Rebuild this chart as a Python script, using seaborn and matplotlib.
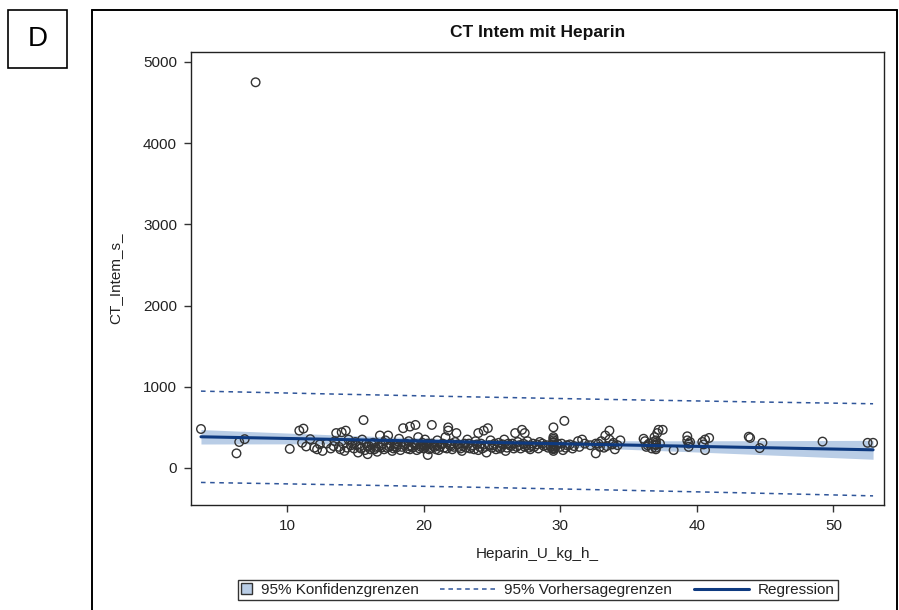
import numpy as np
import pandas as pd
import matplotlib
matplotlib.use("Agg")
import matplotlib.pyplot as plt
import seaborn as sns
from matplotlib.lines import Line2D
from matplotlib.patches import Patch, Rectangle
from matplotlib.legend_handler import HandlerPatch

# ---------------- data ----------------
heparin = [
    3.7, 6.3, 6.5, 6.9, 7.7, 10.2, 10.9, 11.2, 11.1, 11.4, 11.7,
    12.0, 12.2, 12.4, 12.6, 12.9, 13.2, 13.5, 13.6, 13.8, 14.0, 14.1, 14.2, 14.3, 14.5, 14.7, 14.9,
    15.0, 15.2, 15.3, 15.5, 15.6, 15.7, 15.8, 15.9, 16.0, 16.1,
    16.3, 16.5, 16.6, 16.8, 16.9, 17.1, 17.2, 17.4, 17.5, 17.7, 17.9, 18.0, 18.2, 18.3, 18.5, 18.6,
    18.8, 18.9, 19.0, 19.1, 19.3, 19.4, 19.5, 19.6, 19.8, 19.9, 20.0,
    20.1, 20.2, 20.3, 20.4, 20.6, 20.6, 20.8, 21.0, 21.1, 21.3, 21.5, 21.6, 21.8, 21.8, 22.0, 22.1,
    22.3, 22.4, 22.6, 22.8, 23.0, 23.2, 23.4, 23.6, 23.8, 24.0, 24.0,
    24.2, 24.4, 24.5, 24.6, 24.7, 24.9, 25.1, 25.3, 25.5, 25.7, 25.9, 26.0, 26.2, 26.4, 26.6, 26.7,
    26.9, 27.0, 27.2, 27.4, 27.4, 27.6, 27.8, 28.0,
    28.3, 28.5, 28.8, 29.1, 29.5, 29.5, 29.5, 29.5, 29.5, 29.5, 29.5, 29.5, 29.5, 29.8, 30.0, 30.2,
    30.3, 30.5, 30.9, 31.3, 31.6,
    32.6, 32.6, 32.9, 33.0, 33.2, 33.3, 33.6, 33.6, 33.8, 34.0, 34.4,
    36.1, 36.2, 36.3, 36.5, 36.7, 36.9, 37.0, 37.0, 37.0, 37.0, 37.1, 37.2, 37.5, 38.3,
    39.3, 39.3, 39.4, 39.4, 40.4, 40.6, 40.6, 40.9,
    43.8, 43.9, 44.6, 44.8, 49.2, 52.5, 52.9,
    13.4, 13.9, 14.4, 14.8, 15.1, 15.4, 15.9, 16.2, 16.4, 16.7, 17.0, 17.3, 17.6, 17.8, 18.1, 18.4,
    18.7, 19.0, 19.2, 19.5, 19.7, 20.0, 20.1, 20.3, 20.5, 20.7, 20.9, 21.2, 21.4, 21.7, 21.9, 22.2,
    22.5, 22.7, 22.9, 23.1, 23.3, 23.5, 23.7, 23.9, 24.1, 24.3, 24.8, 25.0, 25.2, 25.4, 25.6, 25.8,
    26.1, 26.3, 26.5, 26.8, 27.1, 27.3, 27.5, 27.7, 27.9, 28.1, 28.4, 28.7, 29.0, 29.3, 29.5, 29.5,
    29.5, 29.7, 30.1, 30.4, 30.7, 31.0, 31.4, 31.8, 32.2, 32.8, 33.4, 33.9, 34.2, 36.4, 36.8, 37.0,
    37.0, 37.3, 39.5, 40.5, 22.0, 21.0, 19.8, 18.9, 17.9, 16.9,
]
ct_intem = [
    480, 180, 320, 355, 4750, 235, 460, 485, 310, 265, 355,
    250, 230, 290, 210, 300, 240, 330, 430, 260, 440, 300, 210, 460, 350, 280, 240,
    320, 190, 260, 350, 590, 220, 300, 170, 270, 230,
    310, 250, 200, 400, 280, 230, 340, 400, 260, 210, 300, 250, 360, 220, 490, 280,
    240, 330, 510, 270, 300, 530, 220, 380, 260, 310, 240,
    350, 280, 160, 230, 530, 300, 260, 340, 220, 290, 250, 380, 500, 460, 270, 230,
    320, 430, 260, 210, 300, 350, 240, 280, 330, 430, 220,
    300, 460, 260, 190, 490, 340, 280, 230, 310, 260, 350, 210, 300, 270, 240, 430,
    320, 280, 470, 430, 260, 330, 230, 300,
    290, 320, 270, 250, 500, 380, 340, 310, 290, 270, 250, 230, 210, 300, 260, 220,
    580, 280, 240, 330, 350,
    300, 180, 260, 330, 250, 400, 460, 350, 290, 230, 340,
    360, 330, 260, 300, 240, 380, 340, 310, 280, 250, 430, 470, 470, 220,
    390, 340, 300, 260, 320, 350, 220, 370,
    385, 370, 245, 310, 325, 310, 310,
    270, 230, 250, 300, 280, 240, 260, 290, 230, 260, 300, 250, 280, 240, 290, 260,
    300, 230, 250, 290, 240, 280, 260, 300, 240, 270, 230, 260, 300, 240, 280, 260,
    290, 240, 270, 250, 300, 260, 230, 290, 260, 240, 280, 250, 300, 260, 240, 290,
    250, 280, 300, 260, 240, 300, 280, 250, 270, 260, 240, 300, 280, 260, 320, 360,
    240, 270, 300, 250, 290, 270, 260, 300, 280, 300, 270, 310, 280, 280, 320, 290,
    230, 300, 320, 290, 300, 280, 290, 270, 270, 250,
]
y_ticks = [0, 1000, 2000, 3000, 4000, 5000]
x_ticks = [10, 20, 30, 40, 50]
title = "CT Intem mit Heparin"
x_label = "Heparin_U_kg_h_"
y_label = "CT_Intem_s_"
legend_labels = ["95% Konfidenzgrenzen", "95% Vorhersagegrenzen", "Regression"]
panel_letter = "D"

df = pd.DataFrame({"x": heparin, "y": ct_intem})

# ---------------- regression (from data) ----------------
x = df["x"].to_numpy(float)
y = df["y"].to_numpy(float)
n = len(x)
slope, intercept = np.polyfit(x, y, 1)
resid = y - (intercept + slope * x)
s = np.sqrt(np.sum(resid ** 2) / (n - 2))
xbar = x.mean()
sxx = np.sum((x - xbar) ** 2)
t = 1.969
xg = np.linspace(x.min(), x.max(), 200)
yg = intercept + slope * xg
se_mean = s * np.sqrt(1 / n + (xg - xbar) ** 2 / sxx)
se_pred = s * np.sqrt(1 + 1 / n + (xg - xbar) ** 2 / sxx)

# ---------------- figure ----------------
sns.set_theme(style="white")
plt.rcParams["font.family"] = ["Liberation Sans", "DejaVu Sans"]

W, H = 899, 610
fig = plt.figure(figsize=(W / 100, H / 100), dpi=100)
ax = fig.add_axes([191 / W, 1 - 505 / H, 693 / W, 453 / H])

ci_color = "#b9cde6"
line_color = "#0e3a80"
dash_color = "#2f559a"
text_color = "#222222"

ax.fill_between(xg, yg - t * se_mean, yg + t * se_mean, color=ci_color, lw=0, zorder=1)
ax.plot(xg, yg + t * se_pred, color=dash_color, lw=1.1, dashes=(3, 3), zorder=2)
ax.plot(xg, yg - t * se_pred, color=dash_color, lw=1.1, dashes=(3, 3), zorder=2)
sns.scatterplot(data=df, x="x", y="y", ax=ax, marker="o", s=38,
                facecolor="none", edgecolor="#333333", linewidth=1.0, zorder=3)
ax.plot(xg, yg, color=line_color, lw=2.2, zorder=4)

ax.set_xlim(2.97, 53.7)
ax.set_ylim(-456, 5123)
ax.set_xticks(x_ticks)
ax.set_yticks(y_ticks)
ax.tick_params(axis="both", direction="out", length=5, width=1, color="#333333",
               labelsize=11, labelcolor=text_color)
ax.tick_params(axis="x", pad=5)
ax.tick_params(axis="y", pad=5)
ax.xaxis.set_ticks_position("bottom")
ax.yaxis.set_ticks_position("left")
for sp in ax.spines.values():
    sp.set_color("#222222")
    sp.set_linewidth(1.0)
ax.set_xlabel(x_label, fontsize=11, color=text_color, labelpad=10)
ax.set_ylabel(y_label, fontsize=11, color=text_color, labelpad=15)
ax.set_title(title, fontsize=12.5, fontweight="bold", color="#111111", pad=11)
ax.grid(False)

# outer frame
for (x0, y0, x1, y1) in [(92, 10, 92, 615), (92, 10, 897, 10), (897, 10, 897, 615)]:
    fig.add_artist(Line2D([x0 / W, x1 / W], [1 - y0 / H, 1 - y1 / H],
                          color="black", lw=1.4, transform=fig.transFigure))

# panel letter box
fig.add_artist(Rectangle((8 / W, 1 - 68 / H), 59 / W, 58 / H, transform=fig.transFigure,
                         facecolor="white", edgecolor="black", lw=1.2))
fig.text(37.5 / W, 1 - 39 / H, panel_letter, ha="center", va="center", fontsize=20,
         color="black")


class SmallSquareHandler(HandlerPatch):
    """Draw the confidence-band handle as a small square with a narrow handle box."""
    def legend_artist(self, legend, orig_handle, fontsize, handlebox):
        size = 7.5  # points
        handlebox.width = size
        p = Rectangle((0, (handlebox.height - size) / 2 - handlebox.ydescent), size, size,
                      facecolor=orig_handle.get_facecolor(),
                      edgecolor=orig_handle.get_edgecolor(), lw=1.0,
                      transform=handlebox.get_transform())
        handlebox.add_artist(p)
        return p


ci_handle = Patch(facecolor=ci_color, edgecolor="#333333", lw=1.0)
handles = [
    ci_handle,
    Line2D([0], [0], color=dash_color, lw=1.1, dashes=(3, 2.5)),
    Line2D([0], [0], color=line_color, lw=2.2),
]
leg = fig.legend(handles, legend_labels, loc="center", bbox_to_anchor=(538 / W, 1 - 590 / H),
                 ncol=3, frameon=True, fancybox=False, fontsize=11, handlelength=3.6,
                 handleheight=0.7, borderpad=0.2, columnspacing=1.4, handletextpad=0.6,
                 borderaxespad=0, handler_map={ci_handle: SmallSquareHandler()})
leg.get_frame().set_edgecolor("black")
leg.get_frame().set_linewidth(1.0)
for txt in leg.get_texts():
    txt.set_color(text_color)

fig.savefig("out.png", dpi=100, facecolor="white")
